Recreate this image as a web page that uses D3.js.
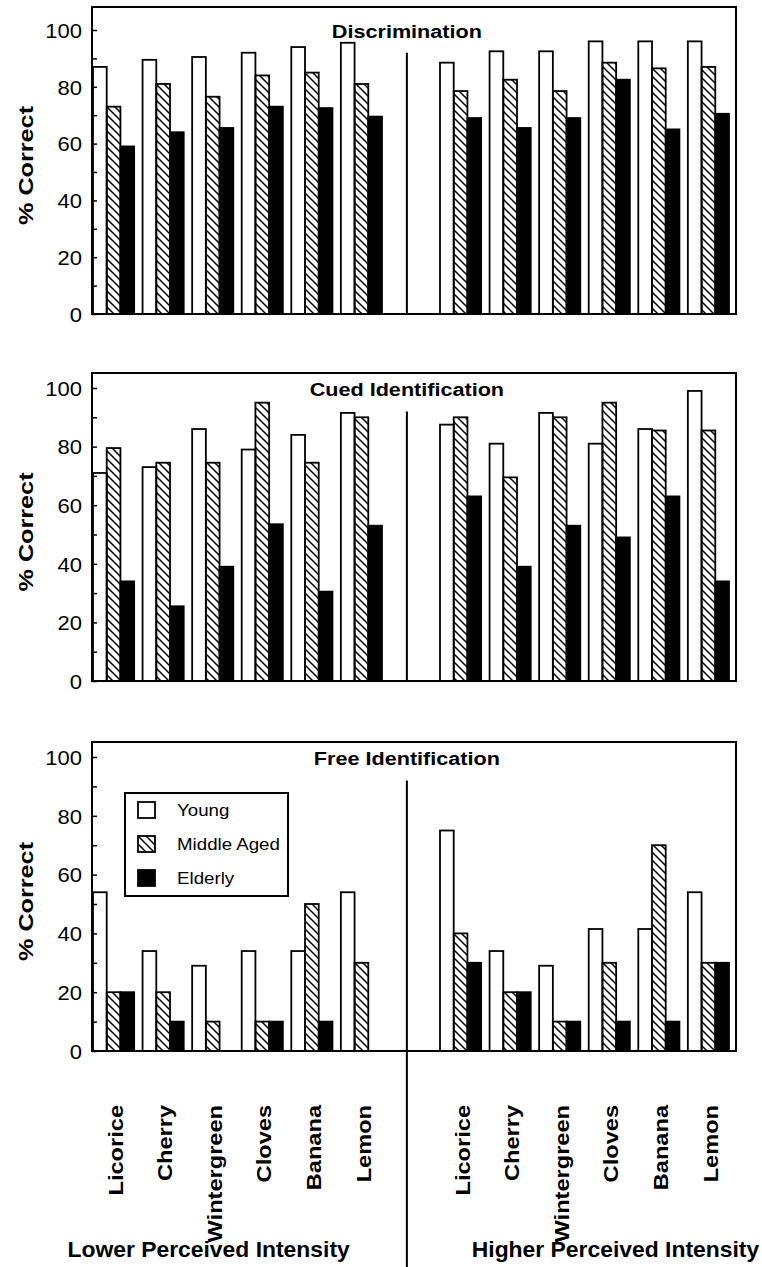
<!DOCTYPE html>
<html>
<head>
<meta charset="utf-8">
<script src="https://cdn.jsdelivr.net/npm/d3@7"></script>
<style>
  body { margin: 0; background: #fff; }
  svg text { font-family: "Liberation Sans", Arial, Helvetica, sans-serif; fill: #000; }
</style>
</head>
<body>
<svg id="chart" width="762" height="1267"></svg>
<script>
// odours, shown twice: lower intensity (left half) then higher intensity (right half)
var odors = ["Licorice", "Cherry", "Wintergreen", "Cloves", "Banana", "Lemon"];
var groups = ["Young", "Middle Aged", "Elderly"];
var yTicks = [0, 20, 40, 60, 80, 100];
var halfLabels = ["Lower Perceived Intensity", "Higher Perceived Intensity"];

// % correct, 12 values each: 6 lower-intensity odours then 6 higher-intensity odours
var discYoung   = [87, 89.5, 90.5, 92, 94, 95.5,   88.5, 92.5, 92.5, 96, 96, 96];
var discMiddle  = [73, 81, 76.5, 84, 85, 81,       78.5, 82.5, 78.5, 88.5, 86.5, 87];
var discElderly = [59, 64, 65.5, 73, 72.5, 69.5,   69, 65.5, 69, 82.5, 65, 70.5];

var cuedYoung   = [71, 73, 86, 79, 84, 91.5,       87.5, 81, 91.5, 81, 86, 99];
var cuedMiddle  = [79.5, 74.5, 74.5, 95, 74.5, 90, 90, 69.5, 90, 95, 85.5, 85.5];
var cuedElderly = [34, 25.5, 39, 53.5, 30.5, 53,   63, 39, 53, 49, 63, 34];

var freeYoung   = [54, 34, 29, 34, 34, 54,         75, 34, 29, 41.5, 41.5, 54];
var freeMiddle  = [20, 20, 10, 10, 50, 30,         40, 20, 10, 30, 70, 30];
var freeElderly = [20, 10, 0, 10, 10, 0,           30, 20, 10, 10, 10, 30];

var panels = [
    { title: "Discrimination",      values: [discYoung, discMiddle, discElderly], top: 7,   y0: 314,  y100: 30 },
    { title: "Cued Identification", values: [cuedYoung, cuedMiddle, cuedElderly], top: 373, y0: 681,  y100: 388 },
    { title: "Free Identification", values: [freeYoung, freeMiddle, freeElderly], top: 742, y0: 1051, y100: 757 }
];

var svg = d3.select("#chart");
var left = 92, right = 736;
var fontStack = '"Liberation Sans", Arial, Helvetica, sans-serif';

// stretch text horizontally, the scanned figure uses a wider face
function stretch(sel, k) {
    sel.each(function() {
        var w = this.getComputedTextLength();
        d3.select(this).attr("textLength", w * k).attr("lengthAdjust", "spacingAndGlyphs");
    });
}

// hatch for middle aged
var defs = svg.append("defs");
defs.append("pattern")
    .attr("id", "hatch")
    .attr("patternUnits", "userSpaceOnUse")
    .attr("width", 8).attr("height", 8)
  .append("path")
    .attr("d", "M-1,-1L9,9M-1,7L1,9M7,-1L9,1")
    .attr("stroke", "#000")
    .attr("stroke-width", 1.5);

var fills = ["#fff", "url(#hatch)", "#000"];

// 13 slots: 6 odours, an empty slot for the divider, 6 odours
var x = d3.scaleBand().domain(d3.range(13)).range([93, 729]).paddingInner(0.17);
var xs = d3.scaleBand().domain(d3.range(3)).range([0, x.bandwidth()]);
var slots = d3.range(6).concat(d3.range(7, 13));
var dividerX = x(6) + x.bandwidth() * 0.4;

panels.forEach(function(p, pi) {
    var y = d3.scaleLinear().domain([0, 100]).range([p.y0, p.y100]);
    var g = svg.append("g");

    // bars
    p.values.forEach(function(vals, si) {
        g.selectAll(".bar" + si)
            .data(vals.map(function(v, i) { return { v: v, slot: slots[i] }; }).filter(function(d) { return d.v > 0; }))
            .enter().append("rect")
            .attr("x", function(d) { return x(d.slot) + xs(si); })
            .attr("y", function(d) { return y(d.v); })
            .attr("width", xs.bandwidth())
            .attr("height", function(d) { return y(0) - y(d.v); })
            .attr("fill", fills[si])
            .attr("stroke", "#000")
            .attr("stroke-width", 1.8);
    });

    // frame
    g.append("rect")
        .attr("x", left).attr("y", p.top)
        .attr("width", right - left).attr("height", y(0) - p.top)
        .attr("fill", "none").attr("stroke", "#000").attr("stroke-width", 2);

    // divider between the two intensity halves
    g.append("line")
        .attr("x1", dividerX).attr("x2", dividerX)
        .attr("y1", y(92))
        .attr("y2", pi == 2 ? 1267 : y(0))
        .attr("stroke", "#000").attr("stroke-width", 2);

    // y axis, ticks pointing inward
    var axis = d3.axisLeft(y).tickValues(d3.range(0, 101, 10)).tickSizeInner(-5).tickSizeOuter(0)
        .tickFormat(function(d) { return yTicks.indexOf(d) >= 0 ? d : ""; });
    var ag = g.append("g").attr("transform", "translate(" + left + ",0)").call(axis);
    ag.select(".domain").remove();
    ag.selectAll(".tick line").attr("stroke", "#000").attr("stroke-width", 1.5);
    ag.selectAll(".tick text")
        .attr("x", -10).attr("dy", "0.36em")
        .style("font-family", fontStack).style("font-size", "20px")
        .call(stretch, 1.1);

    // y title
    g.append("text")
        .attr("transform", "translate(26," + ((p.top + p.y0) / 2 + 5) + ") rotate(-90)")
        .attr("text-anchor", "middle")
        .attr("dy", "0.35em")
        .style("font-size", "21px").style("font-weight", "bold")
        .text("% Correct")
        .call(stretch, 1.2);

    // panel title
    g.append("text")
        .attr("x", dividerX).attr("y", y(100) + 8)
        .attr("text-anchor", "middle")
        .style("font-size", "18px").style("font-weight", "bold")
        .text(p.title)
        .call(stretch, 1.2);

    // legend in the bottom panel
    if (pi == 2) {
        var lg = g.append("g").attr("transform", "translate(125,793)");
        lg.append("rect").attr("width", 163).attr("height", 103)
            .attr("fill", "#fff").attr("stroke", "#000").attr("stroke-width", 2);
        groups.forEach(function(name, i) {
            var row = lg.append("g").attr("transform", "translate(13," + (17 + i * 34) + ")");
            row.append("rect").attr("x", 0).attr("y", -8).attr("width", 17).attr("height", 16)
                .attr("fill", fills[i]).attr("stroke", "#000").attr("stroke-width", 1.8);
            row.append("text").attr("x", 39).attr("dy", "0.35em")
                .style("font-size", "17px")
                .text(name)
                .call(stretch, 1.1);
        });
    }
});

// odour names under the bottom panel
svg.append("g").selectAll("text")
    .data(slots)
    .enter().append("text")
    .attr("transform", function(d) { return "translate(" + (x(d) + x.bandwidth() / 2 + 2) + ",1105) rotate(-90)"; })
    .attr("text-anchor", "end")
    .attr("dy", "0.36em")
    .style("font-size", "20px").style("font-weight", "bold")
    .text(function(d, i) { return odors[i % 6]; })
    .call(stretch, 1.18);

// half labels
svg.append("g").selectAll("text")
    .data(halfLabels)
    .enter().append("text")
    .attr("x", function(d, i) { return i == 0 ? x(2) + x.bandwidth() * 0.4 : x(10) + x.bandwidth() * 0.65; })
    .attr("y", 1257)
    .attr("text-anchor", "middle")
    .style("font-size", "22px").style("font-weight", "bold")
    .text(function(d) { return d; })
    .call(stretch, 1.04);
</script>
</body>
</html>
